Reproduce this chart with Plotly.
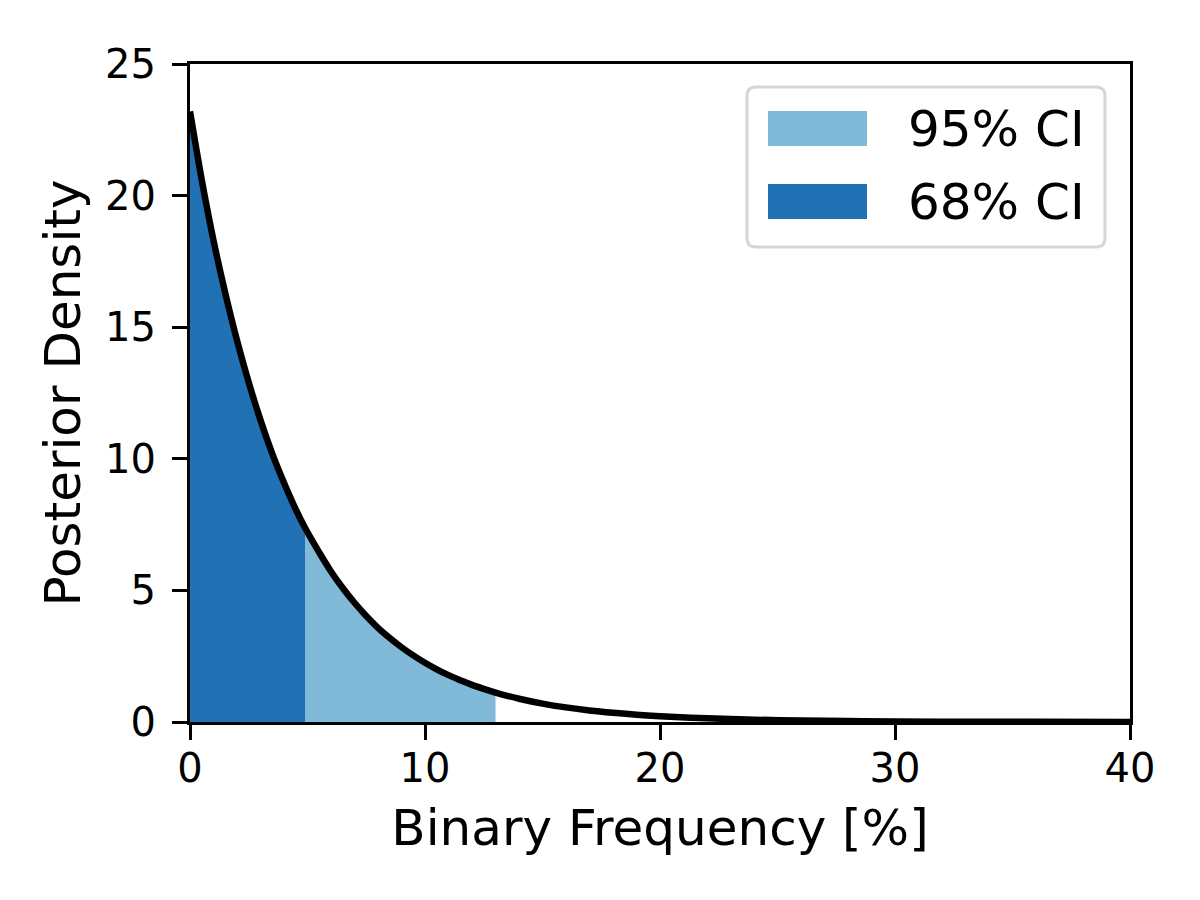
import plotly.graph_objects as go

# Posterior density curve
freq = [0, 0.5, 1, 1.5, 2, 2.5, 3, 3.5, 4, 4.5, 4.9, 5.5, 6, 6.5, 7, 7.5, 8, 8.5, 9, 9.5,
        10, 10.5, 11, 11.5, 12, 12.5, 13.0, 13.5, 14, 15, 16, 17, 18, 19, 20,
        22, 24, 26, 28, 30, 33, 36, 40]
density = [23.2, 20.6, 18.3, 16.3, 14.5, 12.9, 11.47, 10.2, 9.09, 8.08, 7.37, 6.44, 5.72, 5.09,
           4.53, 4.03, 3.58, 3.19, 2.84, 2.53, 2.25, 2.0, 1.78, 1.59, 1.41, 1.26, 1.12, 0.995,
           0.885, 0.70, 0.555, 0.44, 0.35, 0.275, 0.22, 0.14, 0.088, 0.055, 0.035, 0.022,
           0.011, 0.0055, 0.002]

ci68_hi = 4.9
ci95_hi = 13.0
x_ticks = [0, 10, 20, 30, 40]
y_ticks = [0, 5, 10, 15, 20, 25]
legend_labels = ["95% CI", "68% CI"]

c95 = "#81b9d8"
c68 = "#2171b5"

x68 = [x for x in freq if x <= ci68_hi]
y68 = [y for x, y in zip(freq, density) if x <= ci68_hi]
x95 = [x for x in freq if ci68_hi <= x <= ci95_hi]
y95 = [y for x, y in zip(freq, density) if ci68_hi <= x <= ci95_hi]

fig = go.Figure()
fig.add_trace(go.Scatter(x=x95, y=y95, mode="lines", line=dict(width=0, shape="spline", smoothing=1.0),
                         fill="tozeroy", fillcolor=c95, name=legend_labels[0], showlegend=False,
                         hoverinfo="skip"))
fig.add_trace(go.Scatter(x=x68, y=y68, mode="lines", line=dict(width=0, shape="spline", smoothing=1.0),
                         fill="tozeroy", fillcolor=c68, name=legend_labels[1], showlegend=False,
                         hoverinfo="skip"))
fig.add_trace(go.Scatter(x=freq, y=density, mode="lines",
                         line=dict(color="black", width=6.5, shape="spline", smoothing=1.0),
                         showlegend=False))

W, H = 1200, 900
OFF = 7  # page offset of the rendered figure
L, T = 189 - OFF, 63 - OFF
pw, ph = 940, 658
R, B = W - L - pw, H - T - ph


def px2paper(px, py):
    return (px - OFF - L) / pw, (T + ph - (py - OFF)) / ph


# custom legend box (rounded)
x0, y1 = px2paper(746, 86)
x1, y0 = px2paper(1104, 246)
rx, ry = 9 / pw, 9 / ph
path = (f"M{x0+rx},{y0} L{x1-rx},{y0} Q{x1},{y0} {x1},{y0+ry} L{x1},{y1-ry} "
        f"Q{x1},{y1} {x1-rx},{y1} L{x0+rx},{y1} Q{x0},{y1} {x0},{y1-ry} "
        f"L{x0},{y0+ry} Q{x0},{y0} {x0+rx},{y0} Z")
shapes = [dict(type="path", xref="paper", yref="paper", path=path,
               line=dict(color="#d6d6d6", width=3), fillcolor="rgba(255,255,255,0.8)")]
annotations = []
for (top, bot, col, lab) in [(110, 145, c95, legend_labels[0]), (183, 218, c68, legend_labels[1])]:
    a0, b1 = px2paper(767, top)
    a1, b0 = px2paper(866, bot)
    shapes.append(dict(type="rect", xref="paper", yref="paper", x0=a0, x1=a1, y0=b0, y1=b1,
                       line=dict(width=0), fillcolor=col))
    tx, ty = px2paper(905, (top + bot) / 2)
    annotations.append(dict(xref="paper", yref="paper", x=tx, y=ty, text=lab, showarrow=False,
                            xanchor="left", yanchor="middle",
                            font=dict(family="DejaVu Sans", size=50, color="black")))

axis_common = dict(showgrid=False, zeroline=False, showline=True, linecolor="black", linewidth=3,
                   mirror=True, ticks="outside", ticklen=15, tickwidth=3, tickcolor="black",
                   tickfont=dict(family="DejaVu Sans", size=40, color="black"))

fig.update_layout(
    width=W, height=H,
    margin=dict(l=L, r=R, t=T, b=B),
    paper_bgcolor="white", plot_bgcolor="white",
    showlegend=False,
    shapes=shapes, annotations=annotations,
    xaxis=dict(range=[0, 40], tickvals=x_ticks, **axis_common, ticklabelstandoff=-6,
               title=dict(text="Binary Frequency [%]", standoff=20,
                          font=dict(family="DejaVu Sans", size=50, color="black"))),
    yaxis=dict(range=[0, 25], tickvals=y_ticks, **axis_common, ticklabelstandoff=8,
               title=dict(text="Posterior Density", standoff=9,
                          font=dict(family="DejaVu Sans", size=50, color="black"))),
)

fig.write_html("out.html")
